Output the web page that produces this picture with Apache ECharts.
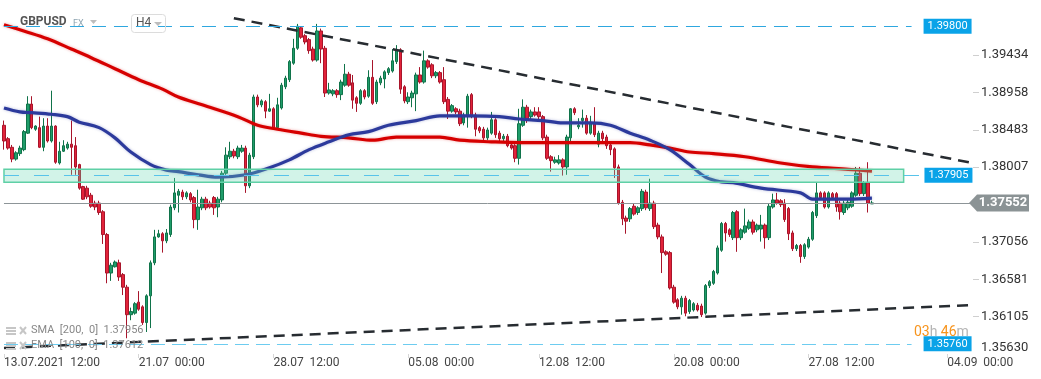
<!DOCTYPE html>
<html><head><meta charset="utf-8">
<script src="https://cdn.jsdelivr.net/npm/echarts@6/dist/echarts.min.js"></script>
<style>html,body{margin:0;padding:0;background:#fff}#c{width:1041px;height:379px}</style>
</head><body><div id="c"></div>
<script>
// ---- DATA (GBPUSD, H4) ----
const open = [1.3854,1.3837,1.3826,1.3811,1.3818,1.3823,1.3844,1.3881,1.3849,1.3851,
1.3826,1.3853,1.3834,1.3853,1.3806,1.3821,1.3825,1.3830,1.3828,1.3804,
1.3776,1.3774,1.3765,1.3755,1.3755,1.3744,1.3715,1.3666,1.3674,1.3679,
1.3664,1.3648,1.3613,1.3615,1.3629,1.3623,1.3603,1.3637,1.3679,1.3712,
1.3716,1.3707,1.3715,1.3749,1.3765,1.3769,1.3763,1.3767,1.3762,1.3734,
1.3749,1.3760,1.3755,1.3762,1.3750,1.3759,1.3793,1.3814,1.3821,1.3814,
1.3821,1.3825,1.3777,1.3814,1.3890,1.3880,1.3884,1.3872,1.3875,1.3851,
1.3876,1.3903,1.3912,1.3933,1.3952,1.3978,1.3968,1.3963,1.3951,1.3937,
1.3974,1.3952,1.3895,1.3894,1.3898,1.3893,1.3905,1.3919,1.3908,1.3889,
1.3882,1.3898,1.3891,1.3915,1.3884,1.3908,1.3913,1.3921,1.3923,1.3935,
1.3950,1.3903,1.3884,1.3889,1.3894,1.3918,1.3909,1.3936,1.3931,1.3917,
1.3921,1.3912,1.3887,1.3872,1.3875,1.3872,1.3857,1.3866,1.3893,1.3867,
1.3851,1.3849,1.3838,1.3844,1.3861,1.3844,1.3837,1.3840,1.3829,1.3828,
1.3812,1.3854,1.3877,1.3865,1.3871,1.3871,1.3865,1.3839,1.3814,1.3807,
1.3806,1.3810,1.3801,1.3838,1.3875,1.3852,1.3860,1.3863,1.3844,1.3857,
1.3830,1.3844,1.3839,1.3829,1.3824,1.3801,1.3756,1.3736,1.3735,1.3751,
1.3743,1.3748,1.3769,1.3748,1.3755,1.3727,1.3712,1.3693,1.3692,1.3648,
1.3632,1.3623,1.3634,1.3617,1.3619,1.3625,1.3624,1.3615,1.3650,1.3653,
1.3666,1.3695,1.3729,1.3721,1.3711,1.3744,1.3711,1.3718,1.3723,1.3731,
1.3721,1.3722,1.3727,1.3711,1.3750,1.3759,1.3758,1.3755,1.3748,1.3717,
1.3697,1.3701,1.3687,1.3699,1.3709,1.3739,1.3768,1.3768,1.3750,1.3767,
1.3767,1.3755,1.3743,1.3749,1.3751,1.3765,1.3793,1.3767,1.3781,1.3754];
const close = [1.3834,1.3825,1.3811,1.3819,1.3825,1.3846,1.3881,1.3851,1.3853,1.3826,
1.3853,1.3834,1.3853,1.3807,1.3821,1.3828,1.3830,1.3826,1.3801,1.3774,
1.3760,1.3763,1.3751,1.3750,1.3743,1.3715,1.3666,1.3676,1.3680,1.3661,
1.3648,1.3613,1.3617,1.3627,1.3620,1.3603,1.3637,1.3679,1.3712,1.3716,
1.3707,1.3717,1.3750,1.3768,1.3770,1.3763,1.3768,1.3759,1.3734,1.3750,
1.3760,1.3749,1.3750,1.3749,1.3760,1.3793,1.3816,1.3821,1.3815,1.3825,
1.3825,1.3777,1.3816,1.3890,1.3880,1.3885,1.3872,1.3875,1.3851,1.3880,
1.3905,1.3914,1.3935,1.3952,1.3980,1.3966,1.3960,1.3949,1.3937,1.3974,
1.3951,1.3895,1.3899,1.3898,1.3893,1.3909,1.3919,1.3905,1.3886,1.3882,
1.3898,1.3890,1.3915,1.3882,1.3909,1.3914,1.3922,1.3926,1.3936,1.3950,
1.3900,1.3885,1.3890,1.3895,1.3918,1.3909,1.3936,1.3928,1.3917,1.3921,
1.3909,1.3884,1.3872,1.3879,1.3871,1.3856,1.3867,1.3891,1.3866,1.3849,
1.3847,1.3838,1.3848,1.3861,1.3842,1.3837,1.3840,1.3828,1.3825,1.3812,
1.3856,1.3877,1.3860,1.3871,1.3867,1.3865,1.3838,1.3812,1.3809,1.3810,
1.3810,1.3801,1.3839,1.3875,1.3870,1.3854,1.3863,1.3844,1.3857,1.3842,
1.3844,1.3837,1.3828,1.3823,1.3800,1.3755,1.3735,1.3732,1.3748,1.3741,
1.3749,1.3770,1.3749,1.3755,1.3725,1.3712,1.3692,1.3690,1.3647,1.3629,
1.3623,1.3634,1.3615,1.3631,1.3627,1.3619,1.3613,1.3650,1.3655,1.3668,
1.3698,1.3729,1.3717,1.3715,1.3743,1.3711,1.3721,1.3726,1.3731,1.3718,
1.3727,1.3727,1.3711,1.3751,1.3759,1.3755,1.3753,1.3734,1.3716,1.3697,
1.3701,1.3687,1.3702,1.3709,1.3743,1.3768,1.3762,1.3750,1.3768,1.3762,
1.3750,1.3744,1.3755,1.3756,1.3768,1.3793,1.3767,1.3781,1.3755,1.37552];
const low = [1.3823,1.3823,1.3807,1.3809,1.3815,1.3821,1.3843,1.3849,1.3847,1.3825,
1.3821,1.3832,1.3832,1.3805,1.3804,1.3820,1.3823,1.3791,1.3791,1.3772,
1.3759,1.3760,1.3749,1.3746,1.3740,1.3703,1.3653,1.3656,1.3673,1.3656,
1.3638,1.3583,1.3606,1.3613,1.3618,1.3600,1.3591,1.3596,1.3676,1.3711,
1.3692,1.3704,1.3712,1.3746,1.3743,1.3759,1.3760,1.3756,1.3723,1.3721,
1.3746,1.3746,1.3748,1.3740,1.3737,1.3756,1.3791,1.3811,1.3812,1.3811,
1.3819,1.3768,1.3774,1.3811,1.3877,1.3877,1.3863,1.3871,1.3848,1.3848,
1.3874,1.3900,1.3909,1.3931,1.3950,1.3964,1.3957,1.3945,1.3935,1.3935,
1.3933,1.3890,1.3893,1.3891,1.3889,1.3886,1.3903,1.3903,1.3875,1.3871,
1.3880,1.3887,1.3889,1.3880,1.3881,1.3905,1.3901,1.3918,1.3921,1.3932,
1.3894,1.3882,1.3881,1.3877,1.3872,1.3907,1.3907,1.3926,1.3914,1.3914,
1.3907,1.3881,1.3862,1.3870,1.3868,1.3853,1.3854,1.3851,1.3863,1.3840,
1.3844,1.3835,1.3835,1.3842,1.3838,1.3834,1.3834,1.3826,1.3823,1.3807,
1.3804,1.3852,1.3857,1.3862,1.3865,1.3862,1.3835,1.3810,1.3795,1.3805,
1.3804,1.3790,1.3791,1.3833,1.3867,1.3849,1.3851,1.3842,1.3842,1.3839,
1.3826,1.3834,1.3824,1.3816,1.3787,1.3753,1.3727,1.3716,1.3731,1.3739,
1.3740,1.3745,1.3746,1.3745,1.3722,1.3709,1.3666,1.3688,1.3645,1.3627,
1.3620,1.3613,1.3611,1.3614,1.3617,1.3617,1.3610,1.3613,1.3647,1.3651,
1.3664,1.3693,1.3706,1.3712,1.3708,1.3693,1.3708,1.3716,1.3721,1.3715,
1.3718,1.3706,1.3697,1.3708,1.3748,1.3753,1.3750,1.3731,1.3708,1.3694,
1.3694,1.3679,1.3684,1.3697,1.3707,1.3736,1.3759,1.3748,1.3748,1.3759,
1.3744,1.3734,1.3740,1.3746,1.3749,1.3763,1.3764,1.3764,1.3743,1.3754];
const high = [1.3860,1.3839,1.3829,1.3821,1.3828,1.3848,1.3891,1.3891,1.3854,1.3865,
1.3863,1.3863,1.3898,1.3854,1.3833,1.3835,1.3833,1.3860,1.3839,1.3805,
1.3777,1.3777,1.3768,1.3758,1.3758,1.3746,1.3717,1.3679,1.3682,1.3683,
1.3666,1.3651,1.3622,1.3629,1.3643,1.3625,1.3639,1.3682,1.3721,1.3721,
1.3718,1.3722,1.3753,1.3787,1.3773,1.3772,1.3770,1.3769,1.3764,1.3772,
1.3763,1.3763,1.3758,1.3764,1.3763,1.3796,1.3826,1.3833,1.3824,1.3828,
1.3829,1.3828,1.3819,1.3893,1.3893,1.3887,1.3886,1.3894,1.3877,1.3889,
1.3908,1.3917,1.3937,1.3964,1.3983,1.3980,1.3970,1.3965,1.3954,1.3983,
1.3977,1.3955,1.3908,1.3900,1.3900,1.3912,1.3932,1.3922,1.3918,1.3891,
1.3900,1.3900,1.3924,1.3937,1.3912,1.3917,1.3924,1.3928,1.3951,1.3956,
1.3952,1.3905,1.3896,1.3898,1.3921,1.3928,1.3949,1.3938,1.3933,1.3923,
1.3923,1.3928,1.3890,1.3881,1.3877,1.3875,1.3870,1.3894,1.3895,1.3870,
1.3853,1.3852,1.3851,1.3871,1.3863,1.3847,1.3843,1.3843,1.3832,1.3830,
1.3875,1.3887,1.3880,1.3874,1.3877,1.3877,1.3867,1.3842,1.3816,1.3814,
1.3816,1.3812,1.3842,1.3876,1.3877,1.3863,1.3874,1.3867,1.3866,1.3877,
1.3847,1.3847,1.3842,1.3832,1.3826,1.3804,1.3759,1.3739,1.3750,1.3754,
1.3751,1.3773,1.3772,1.3786,1.3758,1.3730,1.3715,1.3695,1.3694,1.3651,
1.3634,1.3637,1.3637,1.3633,1.3629,1.3628,1.3627,1.3652,1.3657,1.3670,
1.3701,1.3731,1.3731,1.3723,1.3745,1.3746,1.3723,1.3748,1.3734,1.3734,
1.3729,1.3740,1.3729,1.3754,1.3767,1.3768,1.3760,1.3760,1.3750,1.3720,
1.3703,1.3703,1.3704,1.3712,1.3745,1.3781,1.3770,1.3770,1.3770,1.3769,
1.3769,1.3758,1.3758,1.3759,1.3770,1.3801,1.3801,1.3783,1.3807,1.3758];

// SMA(200) and EMA(100) read at candle indices
const smaIdx = [0,5,11,17,22,28,34,40,44,50,59,64,69,75,80,87,93,99,106,110,115,123,130,145,158,163,168,173,179,187,196,204,213,219];
const smaVal = [1.3982,1.3974,1.3964,1.3951,1.3940,1.3926,1.3912,1.3900,1.3890,1.3880,1.3865,1.3854,1.3849,1.3844,1.3840,1.3838,1.3835,1.3839,1.3839,1.3839,1.3835,1.3833,1.3832,1.3832,1.3832,1.3829,1.3825,1.3820,1.3818,1.3814,1.3806,1.3801,1.3798,1.37956];
const emaIdx = [0,4,7,12,16,19,24,28,32,37,41,44,49,54,61,67,72,77,82,87,92,97,104,110,118,125,130,136,141,148,153,158,163,168,173,177,181,184,191,201,204,213,219];
const emaVal = [1.3876,1.3871,1.3870,1.3868,1.3865,1.3858,1.3851,1.3838,1.3820,1.3804,1.3797,1.3795,1.3791,1.3788,1.3791,1.3800,1.3810,1.3823,1.3833,1.3842,1.3846,1.3854,1.3860,1.3866,1.3866,1.3865,1.3862,1.3860,1.3857,1.3857,1.3854,1.3844,1.3835,1.3823,1.3804,1.3788,1.3782,1.3781,1.3774,1.3768,1.3760,1.3760,1.37612];

// trend lines [index, price]
const upperTrendIdx = [58, 244];
const upperTrendVal = [1.39903, 1.38064];
const lowerTrendIdx = [0, 244];
const lowerTrendVal = [1.35707, 1.36253];

// levels
const resistanceLevel = 1.39800;
const zoneLevel = 1.37905;
const zoneTop = 1.3798;
const zoneBottom = 1.37815;
const supportLevel = 1.35760;
const currentPrice = 1.37552;
const smaLegend = 'SMA  [200,  0]  1.37956';
const emaLegend = 'EMA  [100,  0]  1.37612';

// axes
const categoryCount = 245;
const xTickIdx = [0, 34, 68, 102, 135, 169, 203, 238];
const xTickLabels = ['13.07.2021  12:00','21.07  00:00','28.07  12:00','05.08  00:00','12.08  12:00','20.08  00:00','27.08  12:00','04.09  00:00'];
const yTicks = [1.35630, 1.36105, 1.36581, 1.37056, 1.38007, 1.38483, 1.38958, 1.39434];
const yTickLabels = ['1.35630','1.36105','1.36581','1.37056','1.38007','1.38483','1.38958','1.39434'];

// ---- BUILD ----
const categories = Array.from({length: categoryCount}, (_, i) => String(i));
const candles = open.map((o, i) => [o, close[i], low[i], high[i]]);
const pairs = (a, b) => a.map((x, i) => [x, b[i]]);
const lastIdx = categoryCount - 1;

const chart = echarts.init(document.getElementById('c'), null, {renderer: 'canvas'});
const FONT = 'Roboto, "Noto Sans", sans-serif';

function boxLabel(text, dist) {
  return {show: true, position: 'end', distance: dist, formatter: text,
    backgroundColor: '#0aa3e8', color: '#fff', padding: [2, 4, 2, 4],
    fontSize: 11, lineHeight: 11, fontFamily: FONT};
}

chart.setOption({
  animation: false,
  backgroundColor: '#ffffff',
  grid: {left: 2, top: 0, width: 971, height: 354},
  xAxis: {
    type: 'category', data: categories, boundaryGap: true,
    axisLine: {show: false},
    splitLine: {show: false},
    axisTick: {show: true, alignWithLabel: true, length: 4,
      interval: (i) => xTickIdx.includes(i), lineStyle: {color: '#d6d6d6'}},
    axisLabel: {interval: (i) => xTickIdx.includes(i),
      formatter: (v, i) => xTickLabels[xTickIdx.indexOf(i)] || '',
      align: 'left', margin: 3, color: '#444', fontSize: 12, fontFamily: FONT}
  },
  yAxis: {
    type: 'value', position: 'right', min: 1.35630, max: 1.40134, scale: true,
    splitLine: {show: false}, axisLine: {show: false},
    axisTick: {show: true, length: 6, lineStyle: {color: '#cfcfcf'}, customValues: yTicks.slice(1)},
    axisLabel: {
      customValues: yTicks, margin: 8, color: '#333', fontSize: 13, fontFamily: FONT,
      formatter: (v) => {
        const k = yTicks.findIndex(t => Math.abs(t - v) < 1e-7);
        const s = k >= 0 ? yTickLabels[k] : '';
        return k === 0 ? '{b|' + s + '}' : s;
      },
      rich: {b: {fontSize: 13, color: '#333', fontFamily: FONT, padding: [0, 0, 12, 0]}}
    }
  },
  series: [
    {
      type: 'candlestick', name: 'GBPUSD', data: candles, barWidth: 3, z: 2,
      itemStyle: {color: '#1f9d6a', color0: '#e2233a', borderColor: '#10734a', borderColor0: '#a8152b', borderWidth: 1}
    },
    {
      type: 'line', name: 'SMA', data: pairs(smaIdx, smaVal), smooth: 0.35, symbol: 'none', z: 3,
      lineStyle: {color: '#d60000', width: 3.2, shadowColor: 'rgba(214,0,0,0.35)', shadowBlur: 3}
    },
    {
      type: 'line', name: 'EMA', data: pairs(emaIdx, emaVal), smooth: 0.35, symbol: 'none', z: 3,
      lineStyle: {color: '#2c3a9c', width: 3.2, shadowColor: 'rgba(44,58,156,0.35)', shadowBlur: 3}
    },
    {
      type: 'line', name: 'upper', data: pairs(upperTrendIdx, upperTrendVal), symbol: 'none', z: 4,
      lineStyle: {color: '#272c31', width: 2.5, type: [11, 7]}
    },
    {
      type: 'line', name: 'lower', data: pairs(lowerTrendIdx, lowerTrendVal), symbol: 'none', z: 4,
      lineStyle: {color: '#272c31', width: 2.5, type: [11, 7]},
      markArea: {
        silent: true, z: 5,
        itemStyle: {color: 'rgba(105,215,178,0.3)', borderColor: '#5fd0a6', borderWidth: 1.5},
        data: [[{coord: [0, zoneTop]}, {coord: [227, zoneBottom]}]]
      },
      markLine: {
        silent: true, symbol: 'none', z: 6,
        data: [
          [{coord: [0, resistanceLevel], lineStyle: {color: '#2ea7df', width: 1, type: [14, 8]}, label: boxLabel('1.39800', 12)},
           {coord: [229, resistanceLevel]}],
          [{coord: [0, zoneLevel], lineStyle: {color: '#58c3ea', width: 1.2, type: [15, 15]}, label: boxLabel('1.37905', 1)},
           {coord: [232, zoneLevel]}],
          [{coord: [0, supportLevel], lineStyle: {color: '#6dccf0', width: 1, type: [14, 7]}, label: boxLabel('1.35760', 12)},
           {coord: [229, supportLevel]}],
          [{coord: [0, currentPrice], lineStyle: {color: '#8d9598', width: 1, type: 'solid'}, label: {show: false}},
           {coord: [lastIdx, currentPrice]}]
        ]
      },
      markPoint: {
        silent: true, z: 7,
        data: [{
          coord: [lastIdx, currentPrice], symbol: 'path://M0,8L8,0L60,0L60,16L8,16Z',
          symbolSize: [60, 17], symbolOffset: [28, 0], symbolKeepAspect: false,
          itemStyle: {color: '#8b9395'},
          label: {show: true, position: 'inside', formatter: '1.37552', color: '#fff', fontWeight: 'bold',
            fontSize: 13, fontFamily: FONT, offset: [4, 0]}
        }]
      }
    }
  ],
  graphic: [
    {type: 'text', left: 20, top: 16, z: 20, style: {text: 'GBPUSD', font: 'bold 12px Roboto', fill: '#555'}},
    {type: 'text', left: 73, top: 19, z: 20, style: {text: 'FX', font: '9px Roboto', fill: '#8ea4b1'}},
    {type: 'polygon', z: 20, shape: {points: [[90, 20], [97, 20], [93.5, 24]]}, style: {fill: '#bdbdbd'}},
    {type: 'rect', z: 20, shape: {x: 131.5, y: 14.5, width: 34, height: 18, r: 3}, style: {fill: 'none', stroke: '#dcdcdc', lineWidth: 1}},
    {type: 'text', left: 136, top: 17, z: 20, style: {text: 'H4', font: '12px Roboto', fill: '#555'}},
    {type: 'polygon', z: 20, shape: {points: [[154, 22], [162, 22], [158, 26]]}, style: {fill: '#bdbdbd'}},
    // legend rows
    {type: 'rect', z: 20, shape: {x: 6, y: 327, width: 10, height: 2}, style: {fill: '#c6c6c6'}},
    {type: 'rect', z: 20, shape: {x: 6, y: 330, width: 10, height: 2}, style: {fill: '#c6c6c6'}},
    {type: 'rect', z: 20, shape: {x: 6, y: 333, width: 10, height: 2}, style: {fill: '#c6c6c6'}},
    {type: 'line', z: 20, shape: {x1: 20, y1: 327, x2: 26, y2: 334}, style: {stroke: '#c6c6c6', lineWidth: 2}},
    {type: 'line', z: 20, shape: {x1: 26, y1: 327, x2: 20, y2: 334}, style: {stroke: '#c6c6c6', lineWidth: 2}},
    {type: 'text', left: 31, top: 325, z: 20, style: {text: smaLegend, font: '11px Roboto', fill: '#888'}},
    {type: 'rect', z: 20, shape: {x: 6, y: 342, width: 10, height: 2}, style: {fill: '#c6c6c6'}},
    {type: 'rect', z: 20, shape: {x: 6, y: 345, width: 10, height: 2}, style: {fill: '#c6c6c6'}},
    {type: 'rect', z: 20, shape: {x: 6, y: 348, width: 10, height: 2}, style: {fill: '#c6c6c6'}},
    {type: 'line', z: 20, shape: {x1: 20, y1: 342, x2: 26, y2: 349}, style: {stroke: '#c6c6c6', lineWidth: 2}},
    {type: 'line', z: 20, shape: {x1: 26, y1: 342, x2: 20, y2: 349}, style: {stroke: '#c6c6c6', lineWidth: 2}},
    {type: 'text', left: 31, top: 340, z: 20, style: {text: emaLegend, font: '11px Roboto', fill: '#888'}},
    // countdown
    {type: 'text', left: 914, top: 325, z: 20, style: {
      text: '{o|03}{g|h} {o|46}{g|m}',
      rich: {o: {fontSize: 14, fontFamily: 'Roboto', fill: '#f7941d', color: '#f7941d'},
             g: {fontSize: 14, fontFamily: 'Roboto', fill: '#b5b5b5', color: '#b5b5b5'}}
    }}
  ]
});
</script>
</body></html>
